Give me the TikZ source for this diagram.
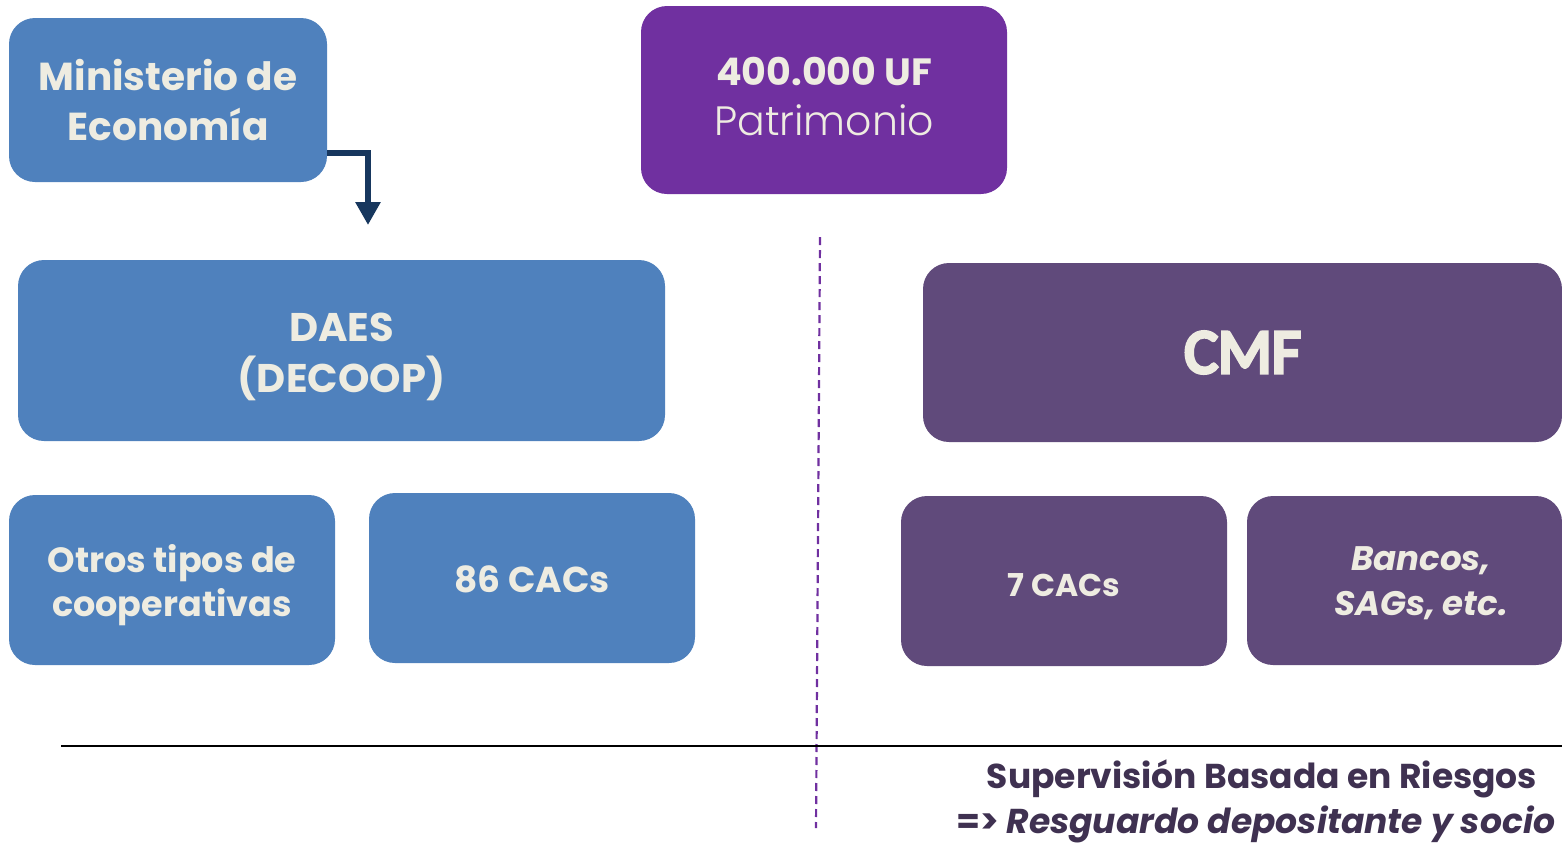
\documentclass[tikz,border=0pt]{standalone}
\usepackage{fontspec}
\setmainfont{Poppins}
\newfontfamily\cmffont{Carlito}[FakeBold=6]
\newfontfamily\lightfont{Poppins Light}
\usetikzlibrary{arrows.meta}
\definecolor{boxblue}{HTML}{4F81BD}
\definecolor{navy}{HTML}{17375E}
\definecolor{vpurple}{HTML}{7030A0}
\definecolor{plum}{HTML}{604A7B}
\definecolor{cream}{HTML}{EEECE1}
\definecolor{darkplum}{HTML}{3F3151}
\tikzset{
  rbox/.style={rounded corners=26pt, inner sep=0pt},
  bluebox/.style={rbox, fill=boxblue},
  plumbox/.style={rbox, fill=plum},
  txt/.style={text=cream, align=center, inner sep=0pt},
}
\begin{document}
\begin{tikzpicture}[x=1pt,y=-1pt]
\useasboundingbox (0,0) rectangle (1562,847);
\clip (0,0) rectangle (1562,847);
% top boxes
\node[bluebox, minimum width=318pt, minimum height=164pt,
  label={[txt, font=\fontsize{39}{50}\selectfont\bfseries]center:Ministerio de\\Econom\'ia}] (min) at (168,100) {};
\node[rbox, fill=vpurple, minimum width=366pt, minimum height=188pt,
  label={[txt, yshift=3pt, font=\fontsize{38}{50}\selectfont]center:\textbf{400.000 UF}\\{\lightfont\fontsize{41}{50}\selectfont Patrimonio}}] (pat) at (824,100) {};
% level 2
\node[bluebox, minimum width=647pt, minimum height=181pt,
  label={[txt, yshift=-6pt, font=\fontsize{40}{51}\selectfont\bfseries]center:DAES\\(DECOOP)}] (daes) at (341.5,350.5) {};
\node[plumbox, minimum width=639pt, minimum height=179pt,
  label={[txt, font=\cmffont\fontsize{63}{70}\selectfont]center:CMF}] (cmf) at (1242.5,352.5) {};
% level 3
\node[bluebox, minimum width=326pt, minimum height=170pt,
  label={[txt, yshift=-5pt, font=\fontsize{35}{44}\selectfont\bfseries]center:Otros tipos de\\cooperativas}] (otros) at (172,580) {};
\node[bluebox, minimum width=326pt, minimum height=170pt,
  label={[txt, yshift=-1pt, font=\fontsize{36}{44}\selectfont\bfseries]center:86 CACs}] (cac86) at (532,578) {};
\node[plumbox, minimum width=326pt, minimum height=170pt,
  label={[txt, yshift=-4pt, font=\fontsize{31.5}{40}\selectfont\bfseries]center:7 CACs}] (cac7) at (1064,581) {};
\node[plumbox, minimum width=315pt, minimum height=169pt,
  label={[txt, xshift=16.5pt, yshift=-3pt, font=\fontsize{34}{45}\selectfont\bfseries\itshape]center:Bancos,\\SAGs, etc.}] (ban) at (1404.5,580.5) {};
% arrow
\coordinate (arrend) at (368,225);
\draw[navy, line width=6pt, -{Triangle[width=24pt,length=23pt]}] ([yshift=29pt]min.south east) -| (arrend);
% dashed divider
\coordinate (dtop) at (820,237);
\coordinate (dbot) at (816,828);
\draw[vpurple, line width=2.2pt, dash pattern=on 8pt off 5pt] (dtop) -- (dbot);
% horizontal rule
\coordinate (hl) at (61,746);
\coordinate (hr) at (1562,746);
\draw[black, line width=2pt] (hl) -- (hr);
% bottom text
\node[text=darkplum, font=\fontsize{34.5}{45}\selectfont\bfseries, anchor=center] (sbr) at (1262,779) {Supervisi\'on Basada en Riesgos};
\node[text=darkplum, font=\fontsize{34.5}{45}\selectfont\bfseries, anchor=west] (resg) at (953,824) {=> \textit{Resguardo depositante y socio}};
\end{tikzpicture}
\end{document}
